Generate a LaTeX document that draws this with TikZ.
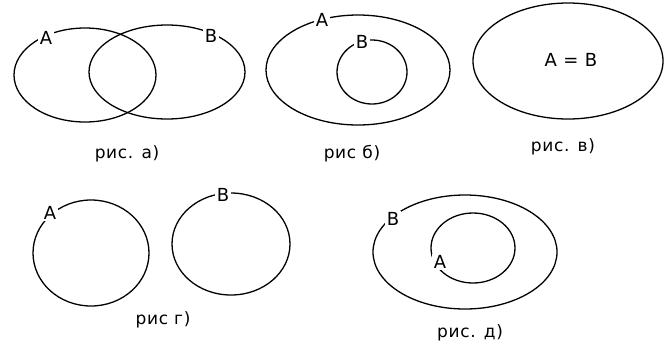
\documentclass[tikz,border=0pt]{standalone}
\usepackage{fontspec}
\setmainfont{DejaVu Sans}[LetterSpace=4]
\begin{document}
\begin{tikzpicture}[x=1pt,y=-1pt,
  setline/.style={draw=black,line width=1.3pt},
  lab/.style={fill=white,inner sep=1.5pt,font=\fontsize{18}{20}\selectfont},
  figcap/.style={inner sep=0pt,font=\fontsize{17}{19}\selectfont}]
\useasboundingbox (0,0) rectangle (672,349);
% fig a
\draw[setline] (85,75) ellipse [x radius=71,y radius=47];
\draw[setline] (167,72) ellipse [x radius=78,y radius=47];
\node[lab] (aA) at (46,38) {A};
\node[lab] (aB) at (211,36) {B};
\node[figcap] (ca) at (127,154) {рис. а)};
% fig b
\draw[setline] (358,70) ellipse [x radius=92,y radius=55];
\draw[setline] (372,72) ellipse [x radius=35,y radius=32];
\node[lab] (bA) at (322,20) {A};
\node[lab] (bB) at (362,42) {B};
\node[figcap] (cb) at (352,154) {рис б)};
% fig v
\draw[setline] (568,61) ellipse [x radius=95,y radius=58];
\node[lab] (vAB) at (571,60) {A = B};
\node[figcap] (cv) at (563,147) {рис. в)};
% fig g
\draw[setline] (91,253) ellipse [x radius=58,y radius=53];
\draw[setline] (231,244) ellipse [x radius=59,y radius=51];
\node[lab] (gA) at (50,213) {A};
\node[lab] (gB) at (223,195) {B};
\node[figcap] (cg) at (163,320) {рис г)};
% fig d
\draw[setline] (465,252) ellipse [x radius=92,y radius=57];
\draw[setline] (473,248) ellipse [x radius=42,y radius=35];
\node[lab] (dB) at (393,219) {B};
\node[lab] (dA) at (440,262) {A};
\node[figcap] (cd) at (470,333) {рис. д)};
\end{tikzpicture}
\end{document}
